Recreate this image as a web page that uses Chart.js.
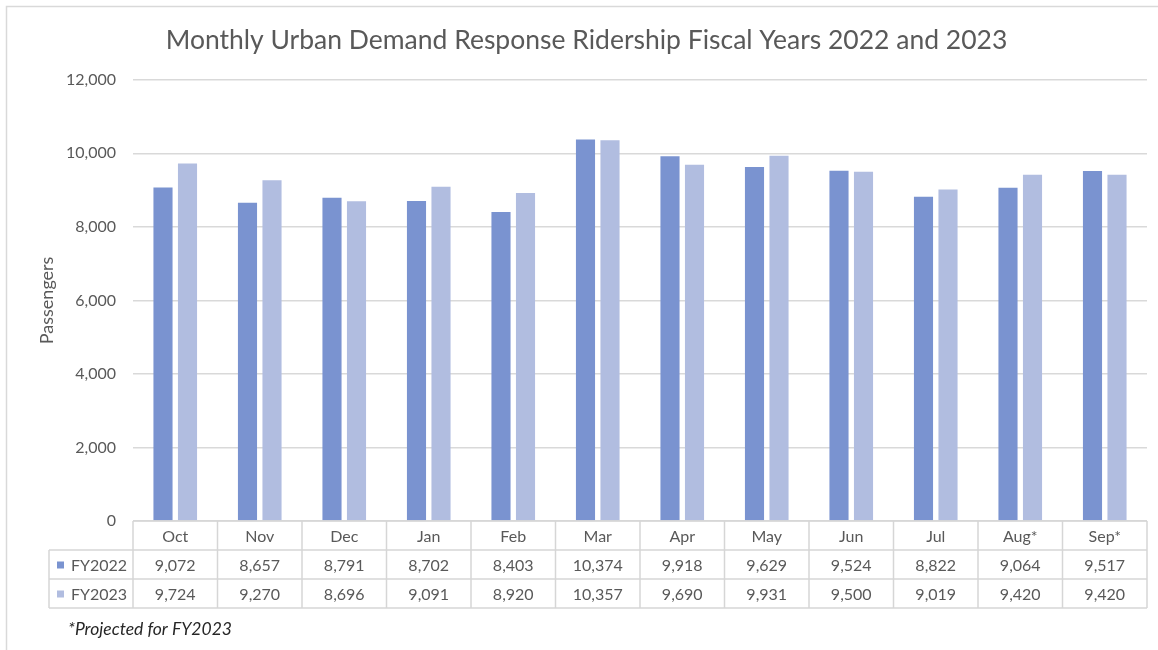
<!DOCTYPE html>
<html>
<head>
<meta charset="utf-8">
<script src="https://cdn.jsdelivr.net/npm/chart.js@4/dist/chart.umd.min.js"></script>
<style>
html,body{margin:0;padding:0;background:#fff;}
#wrap{width:1158px;height:650px;position:relative;}
</style>
</head>
<body>
<div id="wrap"><canvas id="c" width="1158" height="650"></canvas></div>
<script>
const months = ["Oct","Nov","Dec","Jan","Feb","Mar","Apr","May","Jun","Jul","Aug*","Sep*"];
const fy2022 = [9072,8657,8791,8702,8403,10374,9918,9629,9524,8822,9064,9517];
const fy2023 = [9724,9270,8696,9091,8920,10357,9690,9931,9500,9019,9420,9420];
const seriesNames = ["FY2022","FY2023"];
const seriesColors = ["#7a93d0","#b1bde0"];
const titleText = "Monthly Urban Demand Response Ridership Fiscal Years 2022 and 2023";
const yTitle = "Passengers";
const footnote = "*Projected for FY2023";

const FONT = "Lato, 'Liberation Sans', sans-serif";
const TXT = "#595959";
const GRID = "#d9d9d9";

const fmt = v => v.toLocaleString("en-US");

const tablePlugin = {
  id: "tablePlugin",
  beforeDraw(chart) {
    const ctx = chart.ctx;
    ctx.save();
    ctx.fillStyle = "#fff";
    ctx.fillRect(0, 0, chart.width, chart.height);
    ctx.restore();
  },
  afterDraw(chart) {
    const ctx = chart.ctx;
    const x = chart.scales.x;
    const area = chart.chartArea;
    const n = months.length;
    const cw = (area.right - area.left) / n;
    const top = area.bottom;
    const rh = 29;
    const legendLeft = 49;
    ctx.save();
    // outer frame
    ctx.strokeStyle = GRID;
    ctx.lineWidth = 1.5;
    ctx.beginPath();
    ctx.moveTo(6.5, 650); ctx.lineTo(6.5, 6.5); ctx.lineTo(1158, 6.5);
    ctx.stroke();

    // table lines
    ctx.strokeStyle = "#d6d6d6";
    ctx.lineWidth = 1.5;
    ctx.beginPath();
    ctx.moveTo(area.left, top); ctx.lineTo(area.right, top);
    ctx.moveTo(legendLeft, top + rh); ctx.lineTo(area.right, top + rh);
    ctx.moveTo(legendLeft, top + 2*rh); ctx.lineTo(area.right, top + 2*rh);
    ctx.moveTo(legendLeft, top + 3*rh); ctx.lineTo(area.right, top + 3*rh);
    for (let i = 0; i <= n; i++) {
      const xx = area.left + i * cw;
      ctx.moveTo(xx, top); ctx.lineTo(xx, top + 3*rh);
    }
    ctx.moveTo(legendLeft, top + rh); ctx.lineTo(legendLeft, top + 3*rh);
    ctx.stroke();

    // header text
    ctx.fillStyle = TXT;
    ctx.font = "16px " + FONT;
    ctx.textAlign = "center";
    ctx.textBaseline = "middle";
    months.forEach((m, i) => {
      const cx = x.getPixelForValue(i);
      ctx.fillText(m, cx, top + rh/2 + 1);
    });
    const rows = [fy2022, fy2023];
    rows.forEach((arr, r) => {
      const cy = top + rh*(r+1) + rh/2 + 1;
      arr.forEach((v, i) => {
        ctx.fillText(fmt(v), x.getPixelForValue(i), cy);
      });
      ctx.fillStyle = seriesColors[r];
      ctx.fillRect(57, cy - 4, 7, 7);
      ctx.fillStyle = TXT;
      ctx.textAlign = "left";
      ctx.fillText(seriesNames[r], 71, cy);
      ctx.textAlign = "center";
    });
    // footnote
    ctx.fillStyle = "#262626";
    ctx.textAlign = "left";
    ctx.font = "italic 17.5px " + FONT;
    ctx.fillText(footnote, 68, 629);
    ctx.restore();
  }
};

new Chart(document.getElementById("c"), {
  type: "bar",
  data: {
    labels: months,
    datasets: [
      { label: seriesNames[0], data: fy2022, backgroundColor: seriesColors[0], barPercentage: 0.78, categoryPercentage: 0.58 },
      { label: seriesNames[1], data: fy2023, backgroundColor: seriesColors[1], barPercentage: 0.78, categoryPercentage: 0.58 }
    ]
  },
  options: {
    responsive: false,
    animation: false,
    devicePixelRatio: 1,
    layout: { padding: { left: 26, right: 11, top: 0, bottom: 129 } },
    plugins: {
      legend: { display: false },
      tooltip: { enabled: false },
      title: {
        display: true,
        text: titleText,
        color: TXT,
        font: { family: FONT, size: 26.5, weight: "normal" },
        padding: { top: 25, bottom: 23 }
      }
    },
    scales: {
      x: { display: false },
      y: {
        min: 0, max: 12000,
        ticks: { stepSize: 2000, color: TXT, font: { family: FONT, size: 16 }, padding: 17, callback: v => fmt(v) },
        grid: { color: GRID, lineWidth: 1.5, drawTicks: false },
        border: { display: false },
        title: { display: true, text: yTitle, color: TXT, font: { family: FONT, size: 18 }, padding: { top: 10, bottom: 0 } },
        afterFit(scale) { scale.width = 107; }
      }
    }
  },
  plugins: [tablePlugin]
});
</script>
</body>
</html>
